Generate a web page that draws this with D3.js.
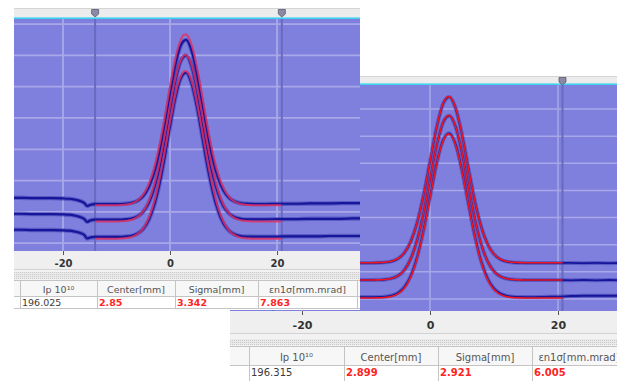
<!DOCTYPE html>
<html>
<head>
<meta charset="utf-8">
<script src="https://cdn.jsdelivr.net/npm/d3@7"></script>
<style>
  html, body { margin: 0; padding: 0; background: #ffffff; }
  svg { display: block; }
</style>
</head>
<body>
<svg id="chart" width="617" height="381"></svg>
<script>
// ---------- data: rear window (profile monitor A) ----------
// sample positions along the scan [mm]
const posA = [-30, -28, -26, -24, -22, -20, -19, -18, -17, -16, -15.5, -15, -14, -12, -10,
  -8, -7, -6, -5, -4, -3, -2, -1, 0, 1, 2, 3, 4, 5, 6, 7, 8, 9, 10, 11, 12, 13, 14,
  16, 18, 20, 22, 24, 26, 28, 30, 32, 34, 36];
// measured profiles (arbitrary units), one per trace
const profA1 = [1.45, 1.45, 1.44, 1.44, 1.44, 1.43, 1.42, 1.40, 1.36, 1.28, 1.19, 1.22, 1.25, 1.25, 1.25,
  1.267, 1.296, 1.364, 1.509, 1.781, 2.237, 2.914, 3.796, 4.783, 5.692, 6.316, 6.495, 6.169, 5.440, 4.484,
  3.513, 2.689, 2.080, 1.683, 1.455, 1.338, 1.284, 1.262,
  1.25, 1.25, 1.26, 1.26, 1.26, 1.27, 1.27, 1.27, 1.28, 1.28, 1.28];
const profA2 = [0.94, 0.94, 0.93, 0.93, 0.93, 0.92, 0.91, 0.89, 0.85, 0.77, 0.68, 0.72, 0.75, 0.75, 0.75,
  0.767, 0.796, 0.864, 1.009, 1.281, 1.737, 2.414, 3.296, 4.283, 5.192, 5.816, 5.995, 5.669, 4.940, 3.984,
  3.013, 2.189, 1.580, 1.183, 0.955, 0.838, 0.784, 0.762,
  0.76, 0.76, 0.77, 0.77, 0.77, 0.78, 0.78, 0.78, 0.78, 0.79, 0.79];
const profA3 = [0.43, 0.43, 0.42, 0.42, 0.42, 0.41, 0.40, 0.38, 0.34, 0.26, 0.15, 0.18, 0.20, 0.20, 0.20,
  0.217, 0.246, 0.314, 0.459, 0.731, 1.187, 1.864, 2.746, 3.733, 4.642, 5.266, 5.445, 5.119, 4.390, 3.434,
  2.463, 1.639, 1.030, 0.633, 0.405, 0.288, 0.234, 0.212,
  0.21, 0.21, 0.21, 0.22, 0.22, 0.22, 0.22, 0.23, 0.23, 0.23, 0.23];
// gaussian fit: baseline and amplitude of each trace
const fitOffsetA = [1.21, 0.69, 0.14];
const fitAmpA = [5.46, 5.32, 5.36];
const cursorA = [-14, 20.9];
const rowA = ["196.025", "2.85", "3.342", "7.863"];

// ---------- data: front window (profile monitor B) ----------
const posB = [-32, -28, -24, -20, -16, -12, -11, -10, -9, -8, -7, -6, -5, -4, -3, -2, -1,
  0, 1, 2, 3, 4, 5, 6, 7, 8, 9, 10, 11, 12, 13, 14, 15, 16, 18, 20, 22, 24, 26, 28, 30, 32, 34];
const profB1 = [1.33, 1.33, 1.33, 1.33, 1.33, 1.33, 1.33, 1.33, 1.33, 1.335, 1.350, 1.389, 1.487, 1.705,
  2.124, 2.827, 3.838, 5.067, 6.282, 7.166, 7.446, 7.031, 6.055, 4.814, 3.613, 2.661, 2.020, 1.648,
  1.460, 1.378, 1.345, 1.334, 1.33, 1.33, 1.33, 1.33, 1.33, 1.32, 1.33, 1.32, 1.33, 1.32, 1.33];
const profB2 = [0.70, 0.70, 0.70, 0.70, 0.70, 0.70, 0.70, 0.70, 0.70, 0.706, 0.719, 0.758, 0.856, 1.071,
  1.487, 2.182, 3.183, 4.401, 5.604, 6.479, 6.756, 6.345, 5.379, 4.149, 2.961, 2.018, 1.384, 1.015,
  0.829, 0.747, 0.715, 0.704, 0.70, 0.70, 0.70, 0.70, 0.69, 0.70, 0.69, 0.70, 0.69, 0.70, 0.69];
const profB3 = [0.07, 0.07, 0.07, 0.07, 0.07, 0.07, 0.07, 0.07, 0.07, 0.076, 0.089, 0.128, 0.225, 0.440,
  0.854, 1.547, 2.545, 3.759, 4.958, 5.830, 6.106, 5.696, 4.734, 3.508, 2.324, 1.384, 0.751, 0.384,
  0.199, 0.117, 0.085, 0.074, 0.07, 0.07, 0.08, 0.09, 0.11, 0.12, 0.12, 0.12, 0.12, 0.12, 0.12];
const fitOffsetB = [1.337, 0.70, 0.037];
const fitAmpB = [6.12, 6.06, 6.04];
const cursorB = [-24.5, 20.7];
const rowB = ["196.315", "2.899", "2.921", "6.005"];

// shared axis ticks and table headers
const tickValues = [-20, 0, 20];
const headers = ["Ip 10¹⁰", "Center[mm]", "Sigma[mm]", "εn1σ[mm.mrad]"];

// ---------- drawing ----------
const svg = d3.select("#chart");
const FONT = "'DejaVu Sans', 'Liberation Sans', sans-serif";

const defs = svg.append("defs");
const pat = defs.append("pattern").attr("id", "dots").attr("width", 2).attr("height", 2)
  .attr("patternUnits", "userSpaceOnUse");
pat.append("rect").attr("width", 2).attr("height", 2).attr("fill", "#eaeaea");
pat.append("rect").attr("width", 1).attr("height", 1).attr("fill", "#c9c9c9");

function drawWindow(L, pos, profiles, fitOffset, fitAmp, cursors, row) {
  const g = svg.append("g");
  const cw = defs.append("clipPath").attr("id", "win-" + L.id);
  cw.append("rect").attr("x", L.left).attr("y", L.top)
    .attr("width", L.right - L.left).attr("height", L.bottom - L.top);
  g.attr("clip-path", `url(#win-${L.id})`);

  // window background
  g.append("rect").attr("x", L.left).attr("y", L.top)
    .attr("width", L.right - L.left).attr("height", L.bottom - L.top).attr("fill", "#ffffff");

  // cursor strip above the plot
  g.append("rect").attr("x", L.left).attr("y", L.top)
    .attr("width", L.right - L.left).attr("height", L.plotTop - L.top).attr("fill", "#ececec");
  g.append("rect").attr("x", L.left).attr("y", L.top)
    .attr("width", L.right - L.left).attr("height", 0.8).attr("fill", "#cfcfcf");
  g.append("rect").attr("x", L.left).attr("y", L.plotTop - 1.6)
    .attr("width", L.right - L.left).attr("height", 1.6).attr("fill", "#3cd2f0");

  const x = d3.scaleLinear().domain(L.xDomain).range([L.left, L.right]);
  const y = d3.scaleLinear().domain(L.yDomain).range([L.plotBottom, L.plotTop]);

  const cp = defs.append("clipPath").attr("id", "plot-" + L.id);
  cp.append("rect").attr("x", L.left).attr("y", L.plotTop)
    .attr("width", L.right - L.left).attr("height", L.plotBottom - L.plotTop);
  const plot = g.append("g").attr("clip-path", `url(#plot-${L.id})`);

  plot.append("rect").attr("x", L.left).attr("y", L.plotTop)
    .attr("width", L.right - L.left).attr("height", L.plotBottom - L.plotTop)
    .attr("fill", "#7f7fde");

  // grid
  plot.selectAll(".hg").data(y.ticks(8)).join("line")
    .attr("x1", L.left).attr("x2", L.right)
    .attr("y1", d => y(d)).attr("y2", d => y(d))
    .attr("stroke", "#a8a8e8").attr("stroke-width", L.gridW);
  plot.selectAll(".vg").data(tickValues).join("line")
    .attr("x1", d => x(d)).attr("x2", d => x(d))
    .attr("y1", L.plotTop).attr("y2", L.plotBottom)
    .attr("stroke", "#a8a8e8").attr("stroke-width", L.gridW);

  // cursors
  plot.selectAll(".cur").data(cursors).join("line")
    .attr("x1", d => x(d)).attr("x2", d => x(d))
    .attr("y1", L.plotTop).attr("y2", L.plotBottom)
    .attr("stroke", "#6a6abc").attr("stroke-width", 2);

  // measured profiles
  const line = d3.line().x(d => x(d[0])).y(d => y(d[1])).curve(d3.curveMonotoneX);
  profiles.forEach(p => {
    const pts = pos.map((v, i) => [v, p[i]]);
    plot.append("path").attr("d", line(pts)).attr("fill", "none")
      .attr("stroke", "#1a1a9a").attr("stroke-opacity", 0.35)
      .attr("stroke-width", L.blueW + 2.2).attr("stroke-linejoin", "round");
    plot.append("path").attr("d", line(pts)).attr("fill", "none")
      .attr("stroke", "#16169a").attr("stroke-width", L.blueW).attr("stroke-linejoin", "round");
  });

  // gaussian fits between the cursors, using the tabulated center and sigma
  const center = +row[1], sigma = +row[2];
  const xs = d3.range(cursors[0], cursors[1] + 1e-9, 0.2);
  fitOffset.forEach((off, k) => {
    const pts = xs.map(v => [v, off + fitAmp[k] * Math.exp(-((v - center) ** 2) / (2 * sigma * sigma))]);
    plot.append("path").attr("d", line(pts)).attr("fill", "none")
      .attr("stroke", L.red).attr("stroke-opacity", L.redOpacity)
      .attr("stroke-width", L.redW);
  });

  // cursor handles
  g.selectAll(".handle").data(cursors).join("path")
    .attr("d", d => {
      const cx = x(d), t = L.top + 1.5;
      return `M${cx - 3.5},${t} L${cx + 3.5},${t} L${cx + 3.5},${t + 4.5} L${cx},${t + 7.5} L${cx - 3.5},${t + 4.5} Z`;
    })
    .attr("fill", "#8a8aa6").attr("stroke", "#5a5a70").attr("stroke-width", 0.8);

  // axis strip
  g.append("rect").attr("x", L.left).attr("y", L.plotBottom)
    .attr("width", L.right - L.left).attr("height", L.axisBottom - L.plotBottom).attr("fill", "#efefef");
  g.append("rect").attr("x", L.left).attr("y", L.axisBottom)
    .attr("width", L.right - L.left).attr("height", 1).attr("fill", "#d2d2d2");
  g.append("rect").attr("x", L.left).attr("y", L.axisBottom + 1)
    .attr("width", L.right - L.left).attr("height", L.headTop - L.axisBottom - 1).attr("fill", "#f2f2f2");
  g.append("rect").attr("x", L.left).attr("y", L.dotsTop)
    .attr("width", L.right - L.left).attr("height", L.dotsBottom - L.dotsTop).attr("fill", "url(#dots)");

  const ax = g.append("g").attr("transform", `translate(0,${L.plotBottom})`)
    .call(d3.axisBottom(x).tickValues(tickValues).tickSize(4).tickPadding(L.tickPad)
      .tickFormat(d => String(d)));
  ax.select(".domain").remove();
  ax.selectAll("line").attr("stroke", "#555").attr("stroke-width", 1);
  ax.selectAll("text").attr("font-family", FONT).attr("font-size", L.axisFont)
    .attr("font-weight", "bold").attr("fill", "#333");

  // result table
  const c = L.cols;
  g.append("rect").attr("x", L.left).attr("y", L.headTop)
    .attr("width", L.right - L.left).attr("height", L.headBottom - L.headTop).attr("fill", "#f7f7f7");
  g.append("rect").attr("x", L.left).attr("y", L.headBottom)
    .attr("width", L.right - L.left).attr("height", L.rowBottom - L.headBottom).attr("fill", "#ffffff");
  [L.headTop, L.headBottom, L.rowBottom].forEach(yy => {
    g.append("line").attr("x1", L.left).attr("x2", L.right).attr("y1", yy + 0.5).attr("y2", yy + 0.5)
      .attr("stroke", "#c4c4c4").attr("stroke-width", 1);
  });
  c.slice(1).forEach(xx => {
    g.append("line").attr("x1", xx + 0.5).attr("x2", xx + 0.5).attr("y1", L.headTop).attr("y2", L.rowBottom)
      .attr("stroke", "#c4c4c4").attr("stroke-width", 1);
  });
  headers.forEach((h, i) => {
    g.append("text").attr("x", (c[i + 1] + c[i + 2]) / 2).attr("y", L.headBase)
      .attr("text-anchor", "middle").attr("font-family", FONT).attr("font-size", L.font)
      .attr("fill", "#555").text(h);
  });
  row.forEach((v, i) => {
    g.append("text").attr("x", c[i + 1] + 2).attr("y", L.rowBase)
      .attr("font-family", FONT).attr("font-size", L.font)
      .attr("font-weight", i === 0 ? "normal" : "bold")
      .attr("fill", i === 0 ? "#3a3a3a" : "#ff2424").text(v);
  });
}

const layoutB = {
  id: "b", left: 230, right: 640, top: 76, bottom: 381,
  plotTop: 85, plotBottom: 311,
  xDomain: [-31.25, 32.81], yDomain: [-0.442, 7.885],
  axisBottom: 333, dotsTop: 339, dotsBottom: 345,
  headTop: 346, headBottom: 365, rowBottom: 381,
  headBase: 360.5, rowBase: 375.5,
  cols: [230, 249, 344, 438, 532, 626],
  font: 10, axisFont: 11, tickPad: 6,
  gridW: 1.5, blueW: 1.8, redW: 1.6, red: "#f0141e", redOpacity: 1
};
const layoutA = {
  id: "a", left: 14, right: 360, top: 8, bottom: 310,
  plotTop: 19, plotBottom: 251,
  xDomain: [-29.16, 35.51], yDomain: [-0.249, 7.161],
  axisBottom: 269, dotsTop: 272, dotsBottom: 279,
  headTop: 280, headBottom: 296, rowBottom: 308,
  headBase: 293.3, rowBase: 306,
  cols: [14, 20, 97, 175, 258, 357, 440],
  font: 9.5, axisFont: 10, tickPad: 4.5,
  gridW: 1.8, blueW: 2.2, redW: 2, red: "#e8305a", redOpacity: 0.8
};

// front window first, rear window overlaps it
drawWindow(layoutB, posB, [profB1, profB2, profB3], fitOffsetB, fitAmpB, cursorB, rowB);
drawWindow(layoutA, posA, [profA1, profA2, profA3], fitOffsetA, fitAmpA, cursorA, rowA);
</script>
</body>
</html>
